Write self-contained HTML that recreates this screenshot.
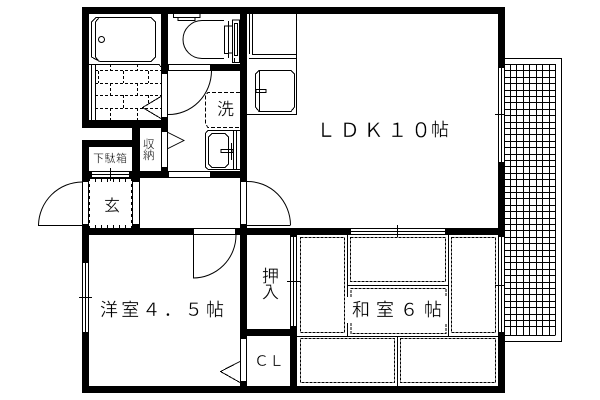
<!DOCTYPE html>
<html><head><meta charset="utf-8">
<style>html,body{margin:0;padding:0;background:#fff}svg{display:block}
text{font-family:"Liberation Sans","WenQuanYi Zen Hei","Noto Sans CJK JP",sans-serif;fill:#000;font-weight:normal;stroke:#fff;stroke-width:.25}</style></head>
<body>
<svg width="600" height="400" viewBox="0 0 600 400" xmlns="http://www.w3.org/2000/svg">
<rect width="600" height="400" fill="#fff"/>
<!-- balcony -->
<g fill="none" stroke="#000" stroke-width="1" shape-rendering="crispEdges">
<path d="M505 58.5H561.5V341.5H505"/>
<path d="M505 64.5H555.5M505 70.5H555.5M505 77.5H555.5M505 83.5H555.5M505 90.5H555.5M505 96.5H555.5M505 102.5H555.5M505 109.5H555.5M505 115.5H555.5M505 122.5H555.5M505 128.5H555.5M505 134.5H555.5M505 141.5H555.5M505 147.5H555.5M505 154.5H555.5M505 160.5H555.5M505 166.5H555.5M505 173.5H555.5M505 179.5H555.5M505 186.5H555.5M505 192.5H555.5M505 198.5H555.5M505 205.5H555.5M505 211.5H555.5M505 218.5H555.5M505 224.5H555.5M505 230.5H555.5M505 237.5H555.5M505 243.5H555.5M505 250.5H555.5M505 256.5H555.5M505 262.5H555.5M505 269.5H555.5M505 275.5H555.5M505 282.5H555.5M505 288.5H555.5M505 294.5H555.5M505 301.5H555.5M505 307.5H555.5M505 314.5H555.5M505 320.5H555.5M505 326.5H555.5M505 335.5H555.5"/>
<path d="M510.5 64V335M516.5 64V335M523.5 64V335M529.5 64V335M536.5 64V335M542.5 64V335M549.5 64V335M555.5 64V335"/>
</g>
<!-- walls -->
<g fill="#000" shape-rendering="crispEdges">
<rect x="82" y="7" width="423" height="7"/>
<rect x="498" y="7" width="7" height="61"/>
<rect x="498" y="162" width="7" height="75"/>
<rect x="498" y="332" width="7" height="61"/>
<rect x="82" y="386" width="423" height="7"/>
<rect x="82" y="7" width="7" height="121"/>
<rect x="82" y="121" width="86" height="7"/>
<rect x="161" y="7" width="7" height="66"/>
<rect x="161" y="118" width="7" height="13"/>
<rect x="161" y="168" width="7" height="10"/>
<rect x="82" y="140" width="58" height="7"/>
<rect x="82" y="140" width="7" height="41"/>
<rect x="132" y="127" width="8" height="54"/>
<rect x="82" y="171" width="10" height="7"/>
<rect x="129" y="171" width="39" height="7"/>
<rect x="211" y="171" width="36" height="7"/>
<rect x="211" y="64" width="36" height="7"/>
<rect x="240" y="7" width="7" height="174"/>
<rect x="82" y="225" width="7" height="38"/>
<rect x="82" y="332" width="7" height="61"/>
<rect x="132" y="225" width="8" height="10"/>
<rect x="240" y="225" width="7" height="113"/>
<rect x="240" y="382" width="7" height="11"/>
<rect x="82" y="228" width="111" height="7"/>
<rect x="236" y="228" width="115" height="7"/>
<rect x="445" y="228" width="60" height="7"/>
<rect x="240" y="329" width="57" height="7"/>
<rect x="290" y="235" width="7" height="2"/>
<rect x="290" y="326" width="7" height="67"/>
</g>
<!-- openings -->
<g fill="#fff" stroke="#000" stroke-width="1" shape-rendering="crispEdges">
<rect x="161.5" y="73.5" width="6" height="44"/>
<rect x="161.5" y="131.5" width="6" height="36"/>
<rect x="168.5" y="64.5" width="42" height="6"/>
<rect x="168.5" y="171.5" width="42" height="6"/>
<rect x="82.5" y="181.5" width="6" height="43"/>
<rect x="132.5" y="181.5" width="7" height="43"/>
<rect x="240.5" y="181.5" width="6" height="43"/>
<rect x="193.5" y="228.5" width="42" height="6"/>
<rect x="240.5" y="338.5" width="6" height="43"/>
</g>
<g fill="none" stroke="#000" stroke-width="1" shape-rendering="crispEdges">
<!-- windows -->
<path d="M498.5 68V162M501.5 68V162M504.5 68V162M495 114.5H505"/>
<path d="M498.5 237V332M501.5 237V332M504.5 237V332M495 285.5H505"/>
<path d="M351 228.5H445M351 231.5H445M351 234.5H445M397.5 225V237"/>
<path d="M290.5 237V326M293.5 237V326M296.5 237V326M287 281.5H300"/>
<path d="M82.5 263V332M85.5 263V332M88.5 263V332M79 297.5H92"/>
<path d="M92 171.5H129M92 174.5H129M92 177.5H129M110.5 168V181"/>
<!-- tatami -->
<path d="M297 336.5H498M347.5 235V297M347.5 323V336M448.5 235V336M347 285.5H448M397.5 336V386"/>
<!-- bath -->
<path d="M96 17.5H151L155.5 22V57L151 61.5H100L91.5 57V22Z"/>
<path d="M99 17.5L95.5 22V57L99 61.5"/>
<path d="M89 64.5H159L161 67"/>
<path d="M91.5 64V120M95.5 64V120M89 120.5H161"/>
<path d="M95 70.5H161M95 83.5H161M95 95.5H161M95 108.5H161" stroke-dasharray="3 2"/>
<path d="M110.5 64V71M137.5 64V71M98.5 71V83M123.5 71V83M148.5 71V83M110.5 83V95M137.5 83V95M123.5 95V108M148.5 95V104M110.5 108V120M137.5 108V120" stroke-dasharray="3 2"/>
<!-- closet -->
<path d="M168 132.5L184 140.5L168 148.5"/>
<path d="M161 96.5L142.5 107.5L161 118.5"/>
<path d="M193.5 235V278"/>
<path d="M240 361.5L220.5 371.5L240 382.5"/>
<path d="M38 225.5H82M247 225.5H290.5"/>
<!-- genkan -->
<path d="M89.5 178.5H132"/>
<path d="M89.5 178V228M131.5 178V228" stroke-dasharray="3 3"/>
<path d="M95.5 178V182M101.5 178V182M107.5 178V182M113.5 178V182M119.5 178V182M125.5 178V182M95.5 225V228M101.5 225V228M107.5 225V228M113.5 225V228M119.5 225V228M125.5 225V228"/>
<!-- laundry -->
<path d="M240 92.5H208L205.5 95V124L208 127.5H240" stroke-dasharray="4 2"/>
<!-- toilet -->
<path d="M173.5 14V17.5H200V14M178 17.5V20.5H195V17.5"/>
<path d="M224.5 26V53.5H228.5V26ZM228.5 21V58M232.5 20V62.5H239.5V20ZM234.5 23.5V55.5H237.5V23.5ZM228.5 26H232M228.5 53H232M234.5 58V62"/>
<path d="M168 64.5H240"/>
<!-- wash basin -->
<path d="M208 130.5H240M208 169.5H240M205.5 133V167L208 169.5M205.5 133L208 130.5"/>
<path d="M212 133.5H225L228.5 137V164L225 167.5H212L208.5 164V137Z"/>
<path d="M233.5 130V170M236.5 130V170"/>
<path d="M221 149.5H233V152.5H221ZM231.5 143V160"/>
<!-- kitchen -->
<path d="M296.5 14V114.5H247M249.5 14V54M252.5 14V54M252 54.5H296M249 58.5H296"/>
<path d="M259 70.5H291L294.5 74V107L291 111.5H259L255.5 107V74Z"/>
<path d="M259.5 71V111"/>
<path d="M256 89.5H266V92.5H256Z"/>
<!-- tatami dashed -->
<g stroke-dasharray="3 1">
<rect x="300.5" y="237.5" width="44" height="95"/>
<rect x="350.5" y="237.5" width="95" height="44"/>
<rect x="451.5" y="237.5" width="44" height="95"/>
<rect x="300.5" y="338.5" width="94" height="44"/>
<rect x="400.5" y="338.5" width="95" height="44"/>
<path d="M351 323V333.5H446V323M351 297V288.5H446V297"/>
</g>
</g>
<g fill="none" stroke="#000" stroke-width="1">
<circle cx="101.5" cy="39.5" r="3"/>
<path d="M211.5 71A43 44 0 0 1 168 114.5"/>
<path d="M82 182A44 44 0 0 0 38.5 225"/>
<path d="M247 181.5A43 44 0 0 1 290.5 225"/>
<path d="M236 235A43 43 0 0 1 193 278"/>
<path d="M224 20.5H202A19 19 0 0 0 202 58.5H224"/>
</g>
<!-- labels -->
<text x="316" y="137" font-size="20" textLength="115" lengthAdjust="spacing">ＬＤＫ１０</text>
<text x="431" y="136" font-size="18">帖</text>
<text x="100" y="316" font-size="18" textLength="124" lengthAdjust="spacing">洋室４．５帖</text>
<text x="352" y="316" font-size="18" textLength="90" lengthAdjust="spacing">和室６帖</text>
<text x="262" y="282" font-size="17">押</text>
<text x="262" y="298" font-size="17">入</text>
<text x="254" y="366" font-size="15" textLength="30" lengthAdjust="spacing">ＣＬ</text>
<text x="217" y="115" font-size="17">洗</text>
<text x="104" y="211" font-size="16">玄</text>
<text x="93" y="162" font-size="11" textLength="34" lengthAdjust="spacing">下駄箱</text>
<text x="143" y="148" font-size="11.5">収</text>
<text x="143" y="159" font-size="11.5">納</text>
</svg>
</body></html>
